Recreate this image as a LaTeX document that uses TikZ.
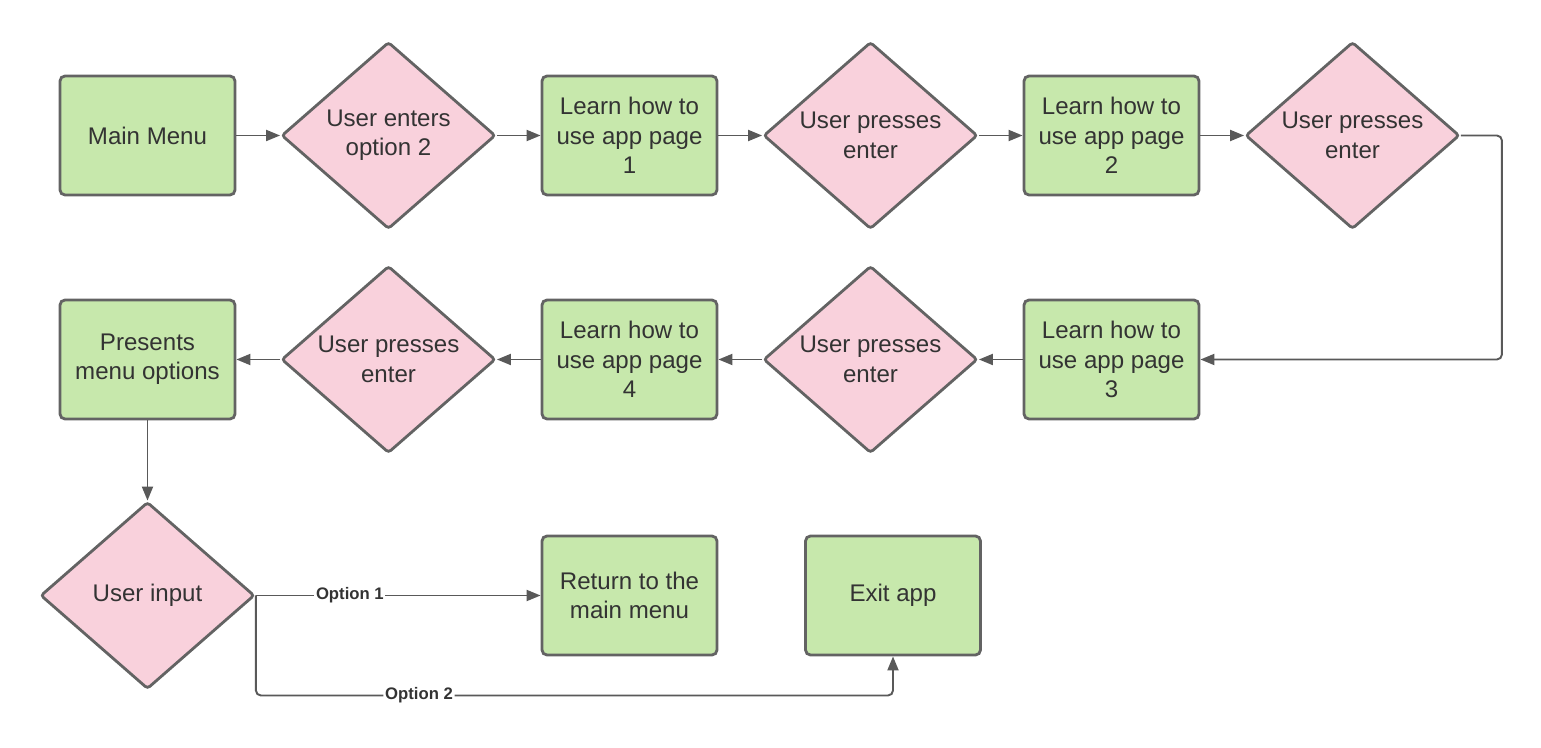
\documentclass[tikz,border=0pt]{standalone}
\usepackage{fontspec}
\setmainfont{Liberation Sans}
\usetikzlibrary{arrows.meta,shapes.geometric,positioning}
\definecolor{boxgreen}{HTML}{C7E8AC}
\definecolor{choicepink}{HTML}{F9D1DC}
\definecolor{linegray}{HTML}{595959}
\definecolor{bordergray}{HTML}{636363}
\definecolor{textgray}{HTML}{333333}

\begin{document}
\begin{tikzpicture}[->,>={Triangle[length=0.28cm,width=0.22cm]},line width=1.1pt,color=linegray,
	node distance=4.82cm,
	box node/.style={rectangle,rounded corners=0.1cm,draw=bordergray,line width=1.6pt,fill=boxgreen,text=textgray,
		minimum width=3.5cm,minimum height=2.38cm,align=center,font=\fontsize{13.7}{16.7}\selectfont},
	choice node/.style={diamond,aspect=1.14,rounded corners=0.06cm,draw=bordergray,line width=1.6pt,fill=choicepink,text=textgray,inner sep=0pt,
		minimum width=4.28cm,minimum height=3.74cm,align=center,font=\fontsize{13.7}{16.7}\selectfont},
	option label/.style={fill=white,inner sep=1pt,text=textgray,font=\fontsize{9.5}{11}\selectfont\bfseries}]
	
	\useasboundingbox (-2.95,2.71) rectangle (27.87,-12.25);
	
	\node[box node] (1) {Main Menu};
	\node[choice node] (2) [right of=1] {User enters\\option 2};
	\node[box node] (3) [right of=2] {Learn how to\\use app page\\1};
	\node[choice node] (4) [right of=3] {User presses\\enter};
	\node[box node] (5) [right of=4] {Learn how to\\use app page\\2};
	\node[choice node] (6) [right of=5] {User presses\\enter};
	
	\node[box node] (7) [below of=5,node distance=4.48cm] {Learn how to\\use app page\\3};
	\node[choice node] (8) [left of=7] {User presses\\enter};
	\node[box node] (9) [left of=8] {Learn how to\\use app page\\4};
	\node[choice node] (10) [left of=9] {User presses\\enter};
	\node[box node] (11) [left of=10] {Presents\\menu options};
	
	\node[choice node] (12) [below of=11,node distance=4.72cm] {User input};
	\node[box node] (13) [below of=9,node distance=4.72cm] {Return to the\\main menu};
	\node[box node] (14) [right of=13,node distance=5.27cm] {Exit app};
	
	\path
	(1) edge (2)
	(2) edge (3)
	(3) edge (4)
	(4) edge (5)
	(5) edge (6)
	(7) edge (8)
	(8) edge (9)
	(9) edge (10)
	(10) edge (11)
	(11) edge (12)
	(12) edge node[option label,pos=0.33] {Option 1} (13);
	
	\draw[rounded corners=0.1cm] (6.east) -- ++(0.82,0) |- (7.east);
	\draw[rounded corners=0.1cm] (12.east) -- ++(0,-2) -| node[option label,pos=0.128] {Option 2} (14.south);
	
\end{tikzpicture}
\end{document}
